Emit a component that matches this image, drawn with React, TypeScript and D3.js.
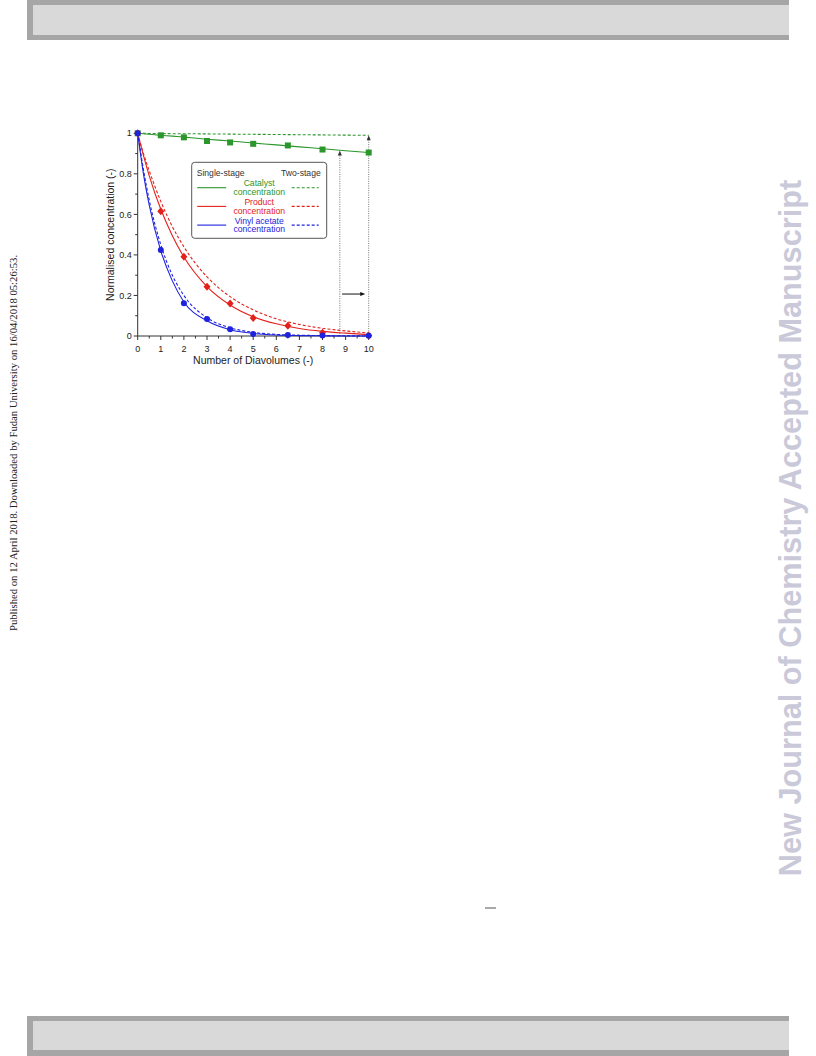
import React, { useEffect, useRef } from 'react'
import * as d3 from 'd3'

// measured points (diavolumes)
const sampleX = [0, 1, 2, 3, 4, 5, 6.5, 8, 10]
const catalystPts = [1, 0.99, 0.98, 0.962, 0.955, 0.948, 0.94, 0.92, 0.905]
const productPts = [1, 0.615, 0.391, 0.243, 0.16, 0.089, 0.051, 0.016, 0.002]
const vinylPts = [1, 0.424, 0.161, 0.084, 0.033, 0.01, 0.005, 0.003, 0.001]

// model curves
const fitX = [0, 0.25, 0.5, 1, 1.5, 2, 3, 4, 5, 6, 7, 8, 9, 10]
const catalystSingle = [1, 0.998, 0.995, 0.99, 0.986, 0.981, 0.971, 0.962, 0.952, 0.943, 0.933, 0.924, 0.914, 0.905]
const catalystTwo = [1, 1, 0.999, 0.999, 0.998, 0.998, 0.997, 0.996, 0.995, 0.994, 0.993, 0.992, 0.991, 0.99]
const productSingle = [1, 0.89, 0.79, 0.625, 0.495, 0.39, 0.244, 0.153, 0.095, 0.06, 0.037, 0.023, 0.014, 0.007]
const productTwo = [1, 0.9, 0.815, 0.664, 0.54, 0.44, 0.292, 0.194, 0.129, 0.085, 0.057, 0.038, 0.025, 0.015]
const vinylSingle = [1, 0.8, 0.645, 0.42, 0.272, 0.168, 0.075, 0.031, 0.013, 0.005, 0.002, 0.001, 0, 0]
const vinylTwo = [1, 0.82, 0.67, 0.45, 0.3, 0.2, 0.09, 0.041, 0.018, 0.008, 0.004, 0.002, 0.001, 0]

const xTicks = [0, 1, 2, 3, 4, 5, 6, 7, 8, 9, 10]
const yTicks = [0, 0.2, 0.4, 0.6, 0.8, 1]

// annotation arrows: [x, yFrom, yTo]
const vArrows = [
  [8.75, 0, 0.915],
  [10, 0, 0.99],
]
const hArrow = [8.85, 9.85, 0.207]

const GREEN = '#2b962b'
const RED = '#e3211c'
const BLUE = '#1e22dc'

export default function App() {
  const svgRef = useRef<SVGSVGElement>(null)

  useEffect(() => {
    if (!svgRef.current) return
    const svg = d3.select(svgRef.current)
    svg.selectAll('*').remove()

    // page frame
    svg.append('rect').attr('x', 27).attr('y', 0).attr('width', 762).attr('height', 40).attr('fill', '#a6a6a6')
    svg.append('rect').attr('x', 33).attr('y', 5).attr('width', 756).attr('height', 30).attr('fill', '#d9d9d9')
    svg.append('rect').attr('x', 27).attr('y', 1016).attr('width', 762).attr('height', 40).attr('fill', '#a6a6a6')
    svg.append('rect').attr('x', 33).attr('y', 1021).attr('width', 756).attr('height', 29).attr('fill', '#d9d9d9')

    svg
      .append('text')
      .attr('transform', 'translate(801,528) rotate(-90)')
      .attr('text-anchor', 'middle')
      .attr('font-family', 'Liberation Sans, Arial, sans-serif')
      .attr('font-weight', 'bold')
      .attr('font-size', 30.7)
      .attr('fill', '#c9c9d9')
      .text('New Journal of Chemistry Accepted Manuscript')

    svg
      .append('text')
      .attr('transform', 'translate(17,443) rotate(-90)')
      .attr('text-anchor', 'middle')
      .attr('font-family', 'Liberation Serif, Times New Roman, serif')
      .attr('font-size', 10.7)
      .attr('fill', '#222')
      .text('Published on 12 April 2018. Downloaded by Fudan University on 16/04/2018 05:26:53.')

    svg.append('line').attr('x1', 485).attr('x2', 496).attr('y1', 908).attr('y2', 908).attr('stroke', '#555').attr('stroke-width', 1)

    const x = d3.scaleLinear().domain([0, 10]).range([137.7, 368.7])
    const y = d3.scaleLinear().domain([0, 1]).range([336, 133.3])
    const font = 'Liberation Sans, Arial, sans-serif'
    const axisColor = '#333'

    const g = svg.append('g')

    // axes
    g.append('line').attr('x1', x(0)).attr('x2', x(10)).attr('y1', y(0)).attr('y2', y(0)).attr('stroke', axisColor)
    g.append('line').attr('x1', x(0)).attr('x2', x(0)).attr('y1', y(0)).attr('y2', y(1)).attr('stroke', axisColor)

    g.selectAll('.xminor')
      .data(d3.range(0, 10.01, 0.5))
      .join('line')
      .attr('x1', (d) => x(d))
      .attr('x2', (d) => x(d))
      .attr('y1', y(0))
      .attr('y2', (d) => y(0) + (Number.isInteger(d) ? 4 : 2.5))
      .attr('stroke', axisColor)
    g.selectAll('.yminor')
      .data(d3.range(0, 1.001, 0.1))
      .join('line')
      .attr('y1', (d) => y(d))
      .attr('y2', (d) => y(d))
      .attr('x1', x(0))
      .attr('x2', (_d, i) => x(0) - (i % 2 === 0 ? 4 : 2.5))
      .attr('stroke', axisColor)

    g.selectAll('.xlab')
      .data(xTicks)
      .join('text')
      .attr('x', (d) => x(d))
      .attr('y', y(0) + 16)
      .attr('text-anchor', 'middle')
      .attr('font-family', font)
      .attr('font-size', 9)
      .attr('fill', '#222')
      .text((d) => d)
    g.selectAll('.ylab')
      .data(yTicks)
      .join('text')
      .attr('x', x(0) - 6)
      .attr('y', (d) => y(d))
      .attr('dy', '0.35em')
      .attr('text-anchor', 'end')
      .attr('font-family', font)
      .attr('font-size', 9)
      .attr('fill', '#222')
      .text((d) => d)

    g.append('text')
      .attr('x', (x(0) + x(10)) / 2)
      .attr('y', 364)
      .attr('text-anchor', 'middle')
      .attr('font-family', font)
      .attr('font-size', 10.5)
      .attr('fill', '#222')
      .text('Number of Diavolumes (-)')
    g.append('text')
      .attr('transform', `translate(114,${(y(0) + y(1)) / 2}) rotate(-90)`)
      .attr('text-anchor', 'middle')
      .attr('font-family', font)
      .attr('font-size', 10.5)
      .attr('fill', '#222')
      .text('Normalised concentration (-)')

    // annotation arrows
    const arrowHead = (px: number, py: number, dir: 'up' | 'right', fill: string) => {
      const pts =
        dir === 'up'
          ? [[px, py], [px - 2, py + 5], [px + 2, py + 5]]
          : [[px, py], [px - 5, py - 2], [px - 5, py + 2]]
      g.append('polygon').attr('points', pts.map((p) => p.join(',')).join(' ')).attr('fill', fill)
    }
    vArrows.forEach(([ax, y0, y1]) => {
      g.append('line')
        .attr('x1', x(ax))
        .attr('x2', x(ax))
        .attr('y1', y(y0))
        .attr('y2', y(y1) + 4)
        .attr('stroke', '#555')
        .attr('stroke-width', 0.8)
        .attr('stroke-dasharray', '1,1.3')
      arrowHead(x(ax), y(y1), 'up', '#333')
    })
    g.append('line')
      .attr('x1', x(hArrow[0]))
      .attr('x2', x(hArrow[1]) - 4)
      .attr('y1', y(hArrow[2]))
      .attr('y2', y(hArrow[2]))
      .attr('stroke', '#111')
      .attr('stroke-width', 1)
    arrowHead(x(hArrow[1]), y(hArrow[2]), 'right', '#111')

    // curves
    const line = d3
      .line<number>()
      .x((_d, i) => x(fitX[i]))
      .y((d) => y(d))
      .curve(d3.curveMonotoneX)
    const curves = [
      { v: catalystTwo, c: GREEN, dash: true },
      { v: catalystSingle, c: GREEN, dash: false },
      { v: productTwo, c: RED, dash: true },
      { v: productSingle, c: RED, dash: false },
      { v: vinylTwo, c: BLUE, dash: true },
      { v: vinylSingle, c: BLUE, dash: false },
    ]
    curves.forEach((cv) => {
      g.append('path')
        .datum(cv.v)
        .attr('fill', 'none')
        .attr('stroke', cv.c)
        .attr('stroke-width', 1.1)
        .attr('stroke-dasharray', cv.dash ? '3,2' : null)
        .attr('d', line)
    })

    // markers
    g.selectAll('.cat')
      .data(catalystPts)
      .join('rect')
      .attr('x', (_d, i) => x(sampleX[i]) - 3)
      .attr('y', (d) => y(d) - 3)
      .attr('width', 6)
      .attr('height', 6)
      .attr('fill', GREEN)
    g.selectAll('.prod')
      .data(productPts)
      .join('path')
      .attr('transform', (d, i) => `translate(${x(sampleX[i])},${y(d)})`)
      .attr('d', 'M0,-4L3.5,0L0,4L-3.5,0Z')
      .attr('fill', RED)
    g.selectAll('.vin')
      .data(vinylPts)
      .join('circle')
      .attr('cx', (_d, i) => x(sampleX[i]))
      .attr('cy', (d) => y(d))
      .attr('r', 3)
      .attr('fill', BLUE)

    // legend
    const lg = svg.append('g').attr('transform', 'translate(191.7,162.3)')
    lg.append('rect')
      .attr('width', 135)
      .attr('height', 76)
      .attr('rx', 3)
      .attr('fill', 'white')
      .attr('stroke', '#555')
      .attr('stroke-width', 1)
    lg.append('text')
      .attr('x', 5)
      .attr('y', 13.5)
      .attr('font-family', font)
      .attr('font-size', 8.6)
      .attr('fill', '#333')
      .text('Single-stage')
    lg.append('text')
      .attr('x', 129)
      .attr('y', 13.5)
      .attr('text-anchor', 'end')
      .attr('font-family', font)
      .attr('font-size', 8.6)
      .attr('fill', '#333')
      .text('Two-stage')
    const rows = [
      { l1: 'Catalyst', c: GREEN },
      { l1: 'Product', c: RED },
      { l1: 'Vinyl acetate', c: BLUE },
    ]
    rows.forEach((r, i) => {
      const ry = 25.4 + i * 18.7
      lg.append('line').attr('x1', 5.5).attr('x2', 34.5).attr('y1', ry).attr('y2', ry).attr('stroke', r.c).attr('stroke-width', 1.1)
      lg.append('line')
        .attr('x1', 100)
        .attr('x2', 127)
        .attr('y1', ry)
        .attr('y2', ry)
        .attr('stroke', r.c)
        .attr('stroke-width', 1.1)
        .attr('stroke-dasharray', '3,2')
      lg.append('text')
        .attr('x', 67.5)
        .attr('y', ry - 1.5)
        .attr('text-anchor', 'middle')
        .attr('font-family', font)
        .attr('font-size', 8.6)
        .attr('fill', r.c)
        .text(r.l1)
      lg.append('text')
        .attr('x', 67.5)
        .attr('y', ry + 7.3)
        .attr('text-anchor', 'middle')
        .attr('font-family', font)
        .attr('font-size', 8.6)
        .attr('fill', r.c)
        .text('concentration')
    })
  }, [])

  return (
    <div style={{ position: 'absolute', left: 0, top: 0, width: 816, height: 1056, background: 'white' }}>
      <svg ref={svgRef} width={816} height={1056} />
    </div>
  )
}
